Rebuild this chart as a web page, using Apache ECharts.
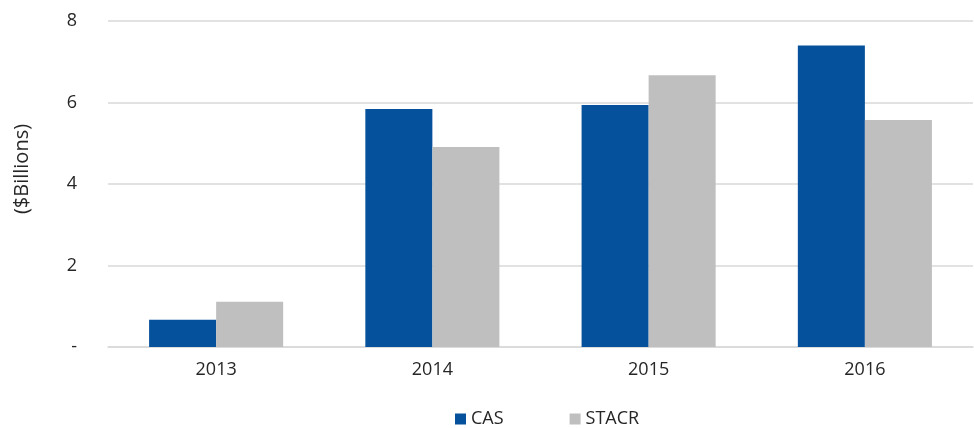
<!DOCTYPE html>
<html>
<head>
<meta charset="utf-8">
<script src="https://cdn.jsdelivr.net/npm/echarts@6/dist/echarts.min.js"></script>
<style>
  html, body { margin: 0; padding: 0; background: #fff; }
  #main { width: 974px; height: 428px; }
</style>
</head>
<body>
<div id="main"></div>
<script>
var years = ['2013', '2014', '2015', '2016'];
var casValues = [0.67, 5.84, 5.94, 7.40];
var stacrValues = [1.11, 4.91, 6.67, 5.57];

var myChart = echarts.init(document.getElementById('main'));
var font = 'Open Sans';
var textColor = '#262626';

var option = {
    animation: false,
    legend: {
        data: ['CAS', 'STACR'],
        top: 405,
        left: 450,
        itemWidth: 11,
        itemHeight: 11,
        itemGap: 66,
        icon: 'rect',
        textStyle: { color: textColor, fontSize: 18, fontFamily: font }
    },
    grid: {
        left: 108,
        right: 1,
        top: 21,
        bottom: 81
    },
    xAxis: {
        type: 'category',
        data: years,
        axisTick: { show: false },
        axisLine: { lineStyle: { color: '#d9d9d9', width: 1.5 } },
        axisLabel: { color: textColor, fontSize: 18, fontFamily: font, margin: 14 }
    },
    yAxis: {
        type: 'value',
        min: 0,
        max: 8,
        interval: 2,
        name: '($Billions)',
        nameLocation: 'middle',
        nameRotate: 90,
        nameGap: 76,
        nameTextStyle: { color: textColor, fontSize: 20, fontFamily: font, padding: [0, 0, 0, 30] },
        axisLabel: {
            color: textColor,
            fontSize: 18,
            fontFamily: font,
            margin: 31,
            formatter: function (v) { return v === 0 ? '-' : v; }
        },
        splitLine: { lineStyle: { color: '#d9d9d9', width: 1.5 } }
    },
    series: [
        {
            name: 'CAS',
            type: 'bar',
            data: casValues,
            barGap: '0%',
            barCategoryGap: '38%',
            itemStyle: { color: '#06519b' }
        },
        {
            name: 'STACR',
            type: 'bar',
            data: stacrValues,
            barGap: '0%',
            barCategoryGap: '38%',
            itemStyle: { color: '#bfbfbf' }
        }
    ]
};

myChart.setOption(option, true);
</script>
</body>
</html>
